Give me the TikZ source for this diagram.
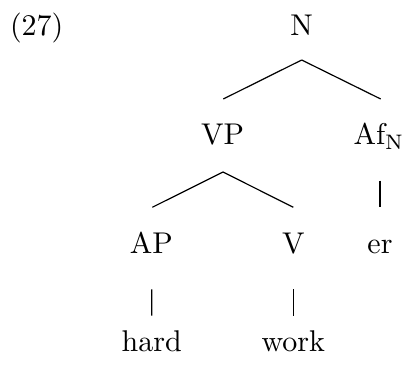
\documentclass[tikz,border=0pt]{standalone}
\usetikzlibrary{calc}
\begin{document}
\begin{tikzpicture}[x=0.33333pt,y=-0.33333pt,
  every node/.style={inner sep=0pt, anchor=base},
  edge/.style={line width=0.4pt}]
\useasboundingbox (0,0) rectangle (406,365);
\node (ex) at (36.7,36) {(27)};
\node (N) at (301.7,36) {N};
\node (VP) at (222.5,145) {VP};
\node (Af) at (379,145) {Af$_{\mathrm{N}}$};
\node (AP) at (151.3,254) {AP};
\node (V) at (293.3,254) {V};
\node (er) at (380,254) {er};
\node (hard) at (151.7,351.7) {hard};
\node (work) at (293.3,351.7) {work};
\draw[edge] ($(N.base)+(0,24)$) -- ($(VP.base)+(0.8,-46)$);
\draw[edge] ($(N.base)+(0,24)$) -- ($(Af.base)+(1.7,-46)$);
\draw[edge] ($(VP.base)+(0.5,27)$) -- ($(AP.base)+(1,-46.7)$);
\draw[edge] ($(VP.base)+(0.5,27)$) -- ($(V.base)+(0,-46.7)$);
\draw[edge] ($(Af.base)+(1,35.7)$) -- ($(er.base)+(0,-46.7)$);
\draw[edge] ($(AP.base)+(0.4,35.3)$) -- ($(hard.base)+(0,-36)$);
\draw[edge] ($(V.base)+(0,35.3)$) -- ($(work.base)+(0,-36)$);
\end{tikzpicture}
\end{document}
